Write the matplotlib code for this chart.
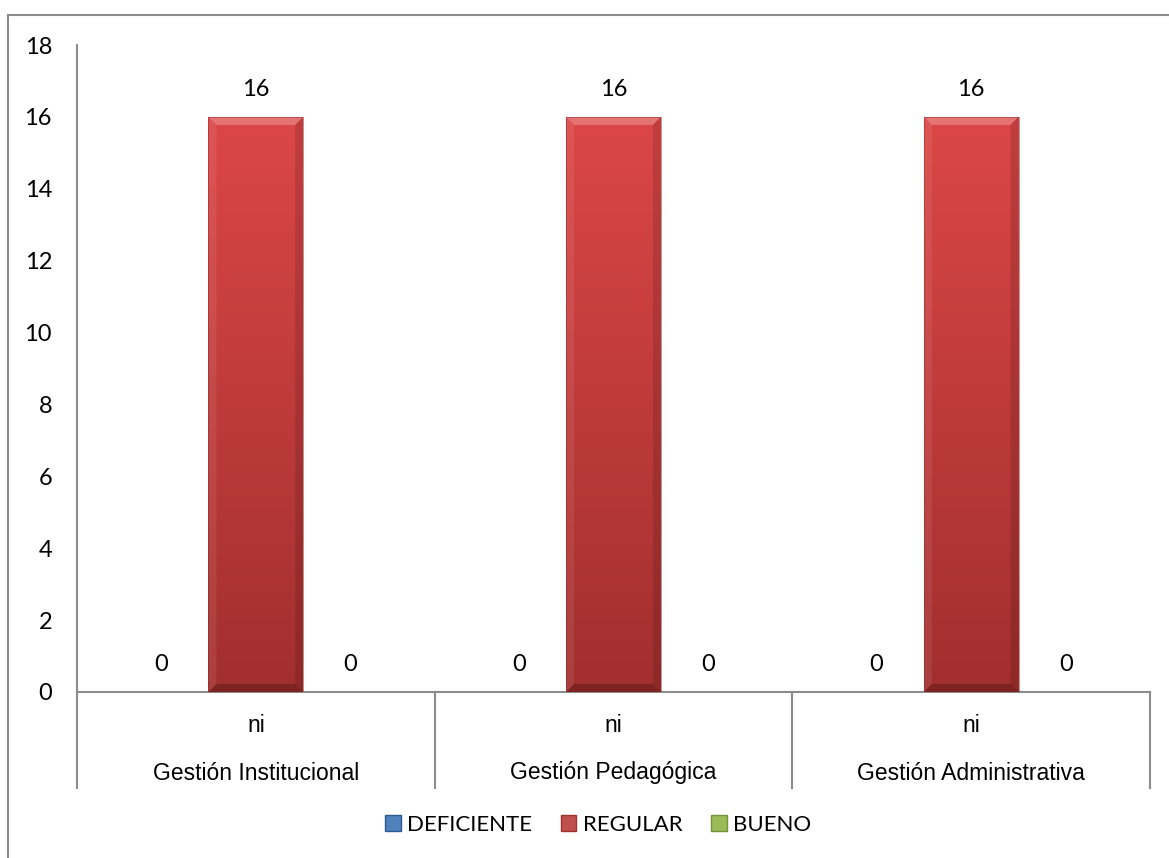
import numpy as np
import matplotlib
matplotlib.use("Agg")
import matplotlib.pyplot as plt
from matplotlib.patches import Patch, Polygon, Rectangle
from matplotlib.colors import LinearSegmentedColormap

categories = ["Gestión Institucional", "Gestión Pedagógica", "Gestión Administrativa"]
sub_label = "ni"
series_names = ["DEFICIENTE", "REGULAR", "BUENO"]
deficiente = [0, 0, 0]
regular = [16, 16, 16]
bueno = [0, 0, 0]
y_ticks = [0, 2, 4, 6, 8, 10, 12, 14, 16, 18]

series_values = [deficiente, regular, bueno]
base_colors = ["#4F81BD", "#C0504D", "#9BBB59"]
top_colors = ["#5B8FD0", "#DC4747", "#AACC66"]
bottom_colors = ["#2E5A8F", "#A12F2E", "#76933C"]

num_font = "Lato"
cat_font = "Liberation Sans"

fig = plt.figure(figsize=(11.69, 8.58), dpi=100)
ax = fig.add_axes([77 / 1169, 166 / 858, 1073 / 1169, 647 / 858])

ax.set_xlim(-0.5, len(categories) - 0.5)
ax.set_ylim(0, 18)

bar_w = 0.265
x = np.arange(len(categories))
offsets = [-bar_w, 0.0, bar_w]

fig.canvas.draw()
px_per_x = ax.transData.transform((1, 0))[0] - ax.transData.transform((0, 0))[0]
px_per_y = ax.transData.transform((0, 1))[1] - ax.transData.transform((0, 0))[1]
bev_px = 8
bx = bev_px / px_per_x
by = bev_px / px_per_y

for s, vals in enumerate(series_values):
    bars = ax.bar(x + offsets[s], vals, width=bar_w, color=base_colors[s],
                  edgecolor="none", zorder=3)
    cmap = LinearSegmentedColormap.from_list(
        f"grad{s}", [bottom_colors[s], top_colors[s]])
    for b, v in zip(bars, vals):
        x0, w, h = b.get_x(), b.get_width(), b.get_height()
        if h <= 0:
            continue
        grad = np.linspace(0, 1, 256).reshape(-1, 1)
        im = ax.imshow(grad, extent=(x0, x0 + w, 0, h), origin="lower",
                       cmap=cmap, aspect="auto", zorder=4)
        im.set_clip_path(b)
        # bevel facets
        x1, top = x0 + w, h
        ax.add_patch(Polygon([(x0, top), (x1, top), (x1 - bx, top - by), (x0 + bx, top - by)],
                             closed=True, facecolor="white", alpha=0.25, edgecolor="none", zorder=5))
        ax.add_patch(Polygon([(x0, 0), (x1, 0), (x1 - bx, by), (x0 + bx, by)],
                             closed=True, facecolor="black", alpha=0.22, edgecolor="none", zorder=5))
        ax.add_patch(Polygon([(x0, 0), (x0, top), (x0 + bx, top - by), (x0 + bx, by)],
                             closed=True, facecolor="white", alpha=0.08, edgecolor="none", zorder=5))
        ax.add_patch(Polygon([(x1, 0), (x1, top), (x1 - bx, top - by), (x1 - bx, by)],
                             closed=True, facecolor="black", alpha=0.12, edgecolor="none", zorder=5))
        ax.add_patch(Rectangle((x0, 0), w, h, facecolor="none", edgecolor="#8E2A2A",
                               linewidth=0.6, alpha=0.6, zorder=6))
    for b, v in zip(bars, vals):
        ax.annotate(f"{v}", (b.get_x() + b.get_width() / 2, v), xytext=(0, 20),
                    textcoords="offset points", ha="center", va="center",
                    fontsize=17, family=num_font, color="black", zorder=7)

# axes styling
for side in ["top", "right", "bottom"]:
    ax.spines[side].set_visible(False)
ax.spines["left"].set_color("#8C8C8C")
ax.spines["left"].set_linewidth(1.5)
ax.set_yticks(y_ticks)
ax.set_yticklabels([str(t) for t in y_ticks], fontsize=17, family=num_font)
ax.tick_params(axis="y", length=0, pad=18)
ax.set_xticks([])

line_kw = dict(color="#8C8C8C", linewidth=1.5, transform=ax.transAxes, clip_on=False)
ax.plot([0, 1], [0, 0], **line_kw)
sep_bottom = -96 / 647
for k in range(len(categories) + 1):
    xx = k / len(categories)
    ax.plot([xx, xx], [0, sep_bottom], **line_kw)

for i, cat in enumerate(categories):
    xc = (i + 0.5) / len(categories)
    ax.text(xc, -33 / 647, sub_label, transform=ax.transAxes, ha="center", va="center",
            fontsize=16.5, family=cat_font)
    ax.text(xc, -81 / 647, cat, transform=ax.transAxes, ha="center", va="center",
            fontsize=16.5, family=cat_font)

handles = [Patch(facecolor=c, edgecolor=bottom_colors[i], linewidth=1.0)
           for i, c in enumerate(base_colors)]
fig.legend(handles, series_names, loc="center", bbox_to_anchor=(598 / 1169, 33 / 858),
           ncol=3, frameon=False, prop={"family": num_font, "size": 16},
           handlelength=0.7, handleheight=0.7, handletextpad=0.28, columnspacing=1.3)

# chart frame
fig.add_artist(plt.Line2D([8 / 1169, 8 / 1169], [0, 1 - 15 / 858], color="#8C8C8C",
                          linewidth=1.5, transform=fig.transFigure))
fig.add_artist(plt.Line2D([8 / 1169, 1], [1 - 15 / 858, 1 - 15 / 858], color="#8C8C8C",
                          linewidth=1.5, transform=fig.transFigure))

fig.savefig("out.png", dpi=100, facecolor="white")
